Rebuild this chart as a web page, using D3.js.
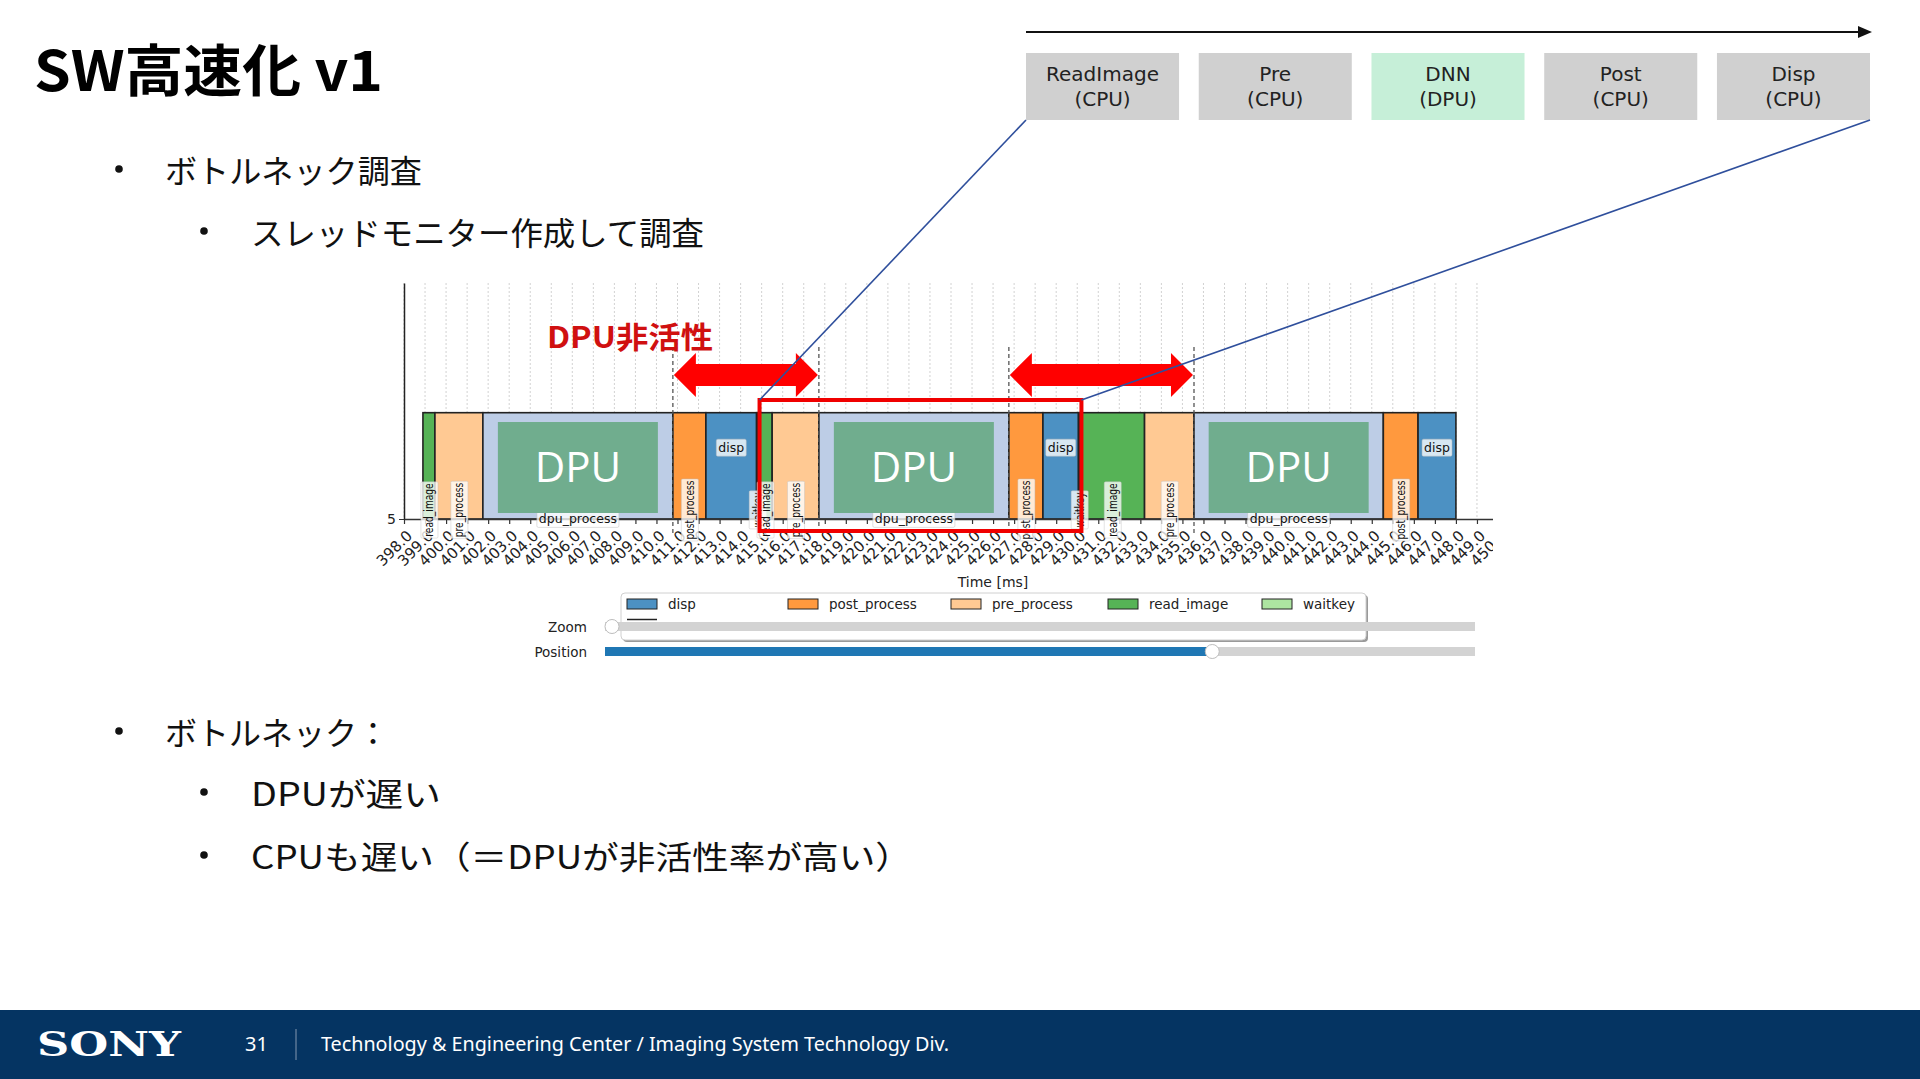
<!DOCTYPE html>
<html>
<head>
<meta charset="utf-8">
<title>SW高速化 v1</title>
<script src="https://cdn.jsdelivr.net/npm/d3@7"></script>
<style>
  html, body { margin: 0; padding: 0; background: #fff; overflow: hidden; }
  svg { display: block; }
</style>
</head>
<body>
<svg id="slide" width="1920" height="1079"></svg>
<script>
// ---------- values ----------
const titleText = 'SW高速化 v1';
const bulletText  = ['ボトルネック調査', 'スレッドモニター作成して調査', 'ボトルネック：', 'DPUが遅い', 'CPUも遅い（＝DPUが非活性率が高い）'];
const bulletLevel = [1, 2, 1, 2, 2];

const stageNames = ['ReadImage', 'Pre', 'DNN', 'Post', 'Disp'];
const stageUnits = ['(CPU)', '(CPU)', '(DPU)', '(CPU)', '(CPU)'];

// thread monitor timeline (ms)
const segTask  = ['read_image', 'pre_process', 'dpu_process', 'post_process', 'disp', 'waitkey',
                  'read_image', 'pre_process', 'dpu_process', 'post_process', 'disp', 'waitkey',
                  'read_image', 'pre_process', 'dpu_process', 'post_process', 'disp'];
const segStart = [398.90, 399.47, 401.75, 410.78, 412.35, 414.76,
                  414.82, 415.50, 417.72, 426.75, 428.37, 430.06,
                  430.13, 433.20, 435.55, 444.55, 446.20];
const segEnd   = [399.47, 401.75, 410.78, 412.35, 414.76, 414.82,
                  415.50, 417.72, 426.75, 428.37, 430.06, 430.13,
                  433.20, 435.55, 444.55, 446.20, 448.00];

const legendTasks = ['disp', 'post_process', 'pre_process', 'read_image', 'waitkey'];
const timeDomain = [398, 450];
const xTicks = d3.range(398, 451);   // one tick per ms
const yTicks = [5];
const highlightSpan = [414.9, 430.2]; // the frame boxed in red
const zoomValue = 0;                  // slider values, fraction of the track
const positionValue = 0.698;
const footerPage = '31';
const footerText = 'Technology & Engineering Center / Imaging System Technology Div.';

const taskColor = {
  disp: '#4c91c3', post_process: '#ff993e', pre_process: '#ffc993',
  read_image: '#56b356', waitkey: '#ade5a1', dpu_process: '#bdcde6'
};

const jp = '"Noto Sans CJK JP", "Noto Sans", sans-serif';
const mpl = '"DejaVu Sans", sans-serif';
const svg = d3.select('#slide');

const segs = segTask.map((t, i) => ({ task: t, start: segStart[i], end: segEnd[i] }));
const dpuSegs = segs.filter(d => d.task === 'dpu_process');
// DPU idle = gap between two dpu_process runs
const idleSpans = dpuSegs.slice(1).map((d, i) => [dpuSegs[i].end, d.start]);

// ---------- title and bullets ----------
svg.append('text').attr('x', 34).attr('y', 91)
  .attr('font-family', jp).attr('font-weight', 700).attr('font-size', 56)
  .attr('textLength', 349).attr('lengthAdjust', 'spacingAndGlyphs')
  .text(titleText);

const bulletY = [169, 231, 731, 792, 855];
const bulletLen = [257, 453, null, 190, 661];
bulletText.forEach((t, i) => {
  const lvl = bulletLevel[i];
  svg.append('circle').attr('cx', lvl === 1 ? 119 : 204).attr('cy', bulletY[i]).attr('r', 3.8).attr('fill', '#111');
  const txt = svg.append('text').attr('x', lvl === 1 ? 165 : 251).attr('y', bulletY[i])
    .attr('dominant-baseline', 'central')
    .attr('font-family', jp).attr('font-size', 32).attr('fill', '#111').text(t);
  if (bulletLen[i]) txt.attr('textLength', bulletLen[i]).attr('lengthAdjust', 'spacingAndGlyphs');
});

// ---------- pipeline boxes (top right) ----------
const sx = d3.scaleBand().domain(stageNames).range([1026, 1870]).paddingInner(0.114);
svg.append('line').attr('x1', 1026).attr('x2', 1860).attr('y1', 32).attr('y2', 32)
  .attr('stroke', '#111').attr('stroke-width', 2);
svg.append('path').attr('d', 'M1858,26 L1872,32 L1858,38 Z').attr('fill', '#111');

const stage = svg.append('g').selectAll('g').data(stageNames).join('g')
  .attr('transform', d => `translate(${sx(d)},53)`);
stage.append('rect').attr('width', sx.bandwidth()).attr('height', 67)
  .attr('fill', d => d === 'DNN' ? '#c6efd8' : '#d0d0d0');
stage.append('text').attr('x', sx.bandwidth() / 2).attr('y', 21)
  .attr('text-anchor', 'middle').attr('dominant-baseline', 'central')
  .attr('font-family', mpl).attr('font-size', 20).attr('fill', '#222').text(d => d);
stage.append('text').attr('x', sx.bandwidth() / 2).attr('y', 46)
  .attr('text-anchor', 'middle').attr('dominant-baseline', 'central')
  .attr('font-family', mpl).attr('font-size', 20).attr('fill', '#222')
  .text((d, i) => stageUnits[i]);

// ---------- thread monitor chart ----------
const x = d3.scaleLinear().domain(timeDomain).range([404, 1498]);
const y = d3.scaleLinear().domain([5, 7.22]).range([519, 283]);
const barTop = 6;

svg.append('defs').append('clipPath').attr('id', 'chartClip').append('rect')
  .attr('x', 360).attr('y', 270).attr('width', 1493 - 360).attr('height', 320);
const chart = svg.append('g').attr('clip-path', 'url(#chartClip)');

// grid
chart.append('g').selectAll('line').data(xTicks).join('line')
  .attr('x1', d => x(d)).attr('x2', d => x(d))
  .attr('y1', y(7.22)).attr('y2', y(5))
  .attr('stroke', '#d2d2d2').attr('stroke-width', 1).attr('stroke-dasharray', '2,2');

// bars
chart.append('g').selectAll('rect').data(segs).join('rect')
  .attr('x', d => x(d.start)).attr('y', y(barTop))
  .attr('width', d => x(d.end) - x(d.start)).attr('height', y(5) - y(barTop))
  .attr('fill', d => taskColor[d.task])
  .attr('stroke', '#222').attr('stroke-width', 1.6);

// axes
const gx = chart.append('g').attr('transform', `translate(0,${y(5)})`)
  .call(d3.axisBottom(x).tickValues(xTicks).tickFormat(d3.format('.1f')).tickSize(5).tickSizeOuter(0));
gx.select('.domain').attr('stroke', '#333').attr('stroke-width', 1.3);
gx.selectAll('.tick line').attr('stroke', '#333').attr('stroke-width', 1.2);
gx.selectAll('.tick text')
  .attr('y', null).attr('dy', '0.35em').attr('text-anchor', 'end')
  .attr('transform', 'translate(5,14) rotate(-45)')
  .attr('font-family', mpl).attr('font-size', 15).attr('fill', '#222');

const gy = chart.append('g').attr('transform', `translate(${x(timeDomain[0])},0)`)
  .call(d3.axisLeft(y).tickValues(yTicks).tickFormat(d3.format('d')).tickSize(5).tickSizeOuter(0));
gy.select('.domain').attr('stroke', '#222').attr('stroke-width', 1.5);
gy.selectAll('.tick line').attr('stroke', '#333');
gy.selectAll('.tick text').attr('font-family', mpl).attr('font-size', 14).attr('fill', '#222');

chart.append('text').attr('x', 993).attr('y', 582)
  .attr('text-anchor', 'middle').attr('dominant-baseline', 'central')
  .attr('font-family', mpl).attr('font-size', 14).attr('fill', '#222').text('Time [ms]');

// task labels with a translucent white box
function boxLabels(sel) {
  sel.each(function () {
    const b = d3.select(this).select('text').node().getBBox();
    d3.select(this).insert('rect', 'text')
      .attr('x', b.x - 2).attr('y', b.y - 1).attr('width', b.width + 4).attr('height', b.height + 2)
      .attr('fill', '#fff').attr('fill-opacity', 0.78)
      .attr('stroke', '#bbb').attr('stroke-opacity', 0.6).attr('stroke-width', 0.8).attr('rx', 1.5);
  });
}

const vLab = chart.append('g').selectAll('g')
  .data(segs.filter(d => d.task !== 'dpu_process' && d.task !== 'disp')).join('g')
  .attr('transform', d => `translate(${x((d.start + d.end) / 2)},510) scale(1,0.7) rotate(-90)`);
vLab.append('text').attr('text-anchor', 'middle').attr('dy', '0.35em')
  .attr('font-family', mpl).attr('font-size', 13).attr('fill', '#111').text(d => d.task);
boxLabels(vLab);

const hLab = chart.append('g').selectAll('g')
  .data(segs.filter(d => d.task === 'dpu_process' || d.task === 'disp')).join('g')
  .attr('transform', d => `translate(${x((d.start + d.end) / 2)},${d.task === 'disp' ? y(5.67) : y(5)})`);
hLab.append('text').attr('text-anchor', 'middle').attr('dy', '0.35em')
  .attr('font-family', mpl).attr('font-size', 12.5).attr('fill', '#111').text(d => d.task);
boxLabels(hLab);

// ---------- slide annotations over the chart ----------
const over = svg.append('g');
over.selectAll('rect.dpu').data(dpuSegs).join('rect').attr('class', 'dpu')
  .attr('x', d => x((d.start + d.end) / 2) - 80).attr('y', 422)
  .attr('width', 160).attr('height', 91).attr('fill', '#70ad8e');
over.selectAll('text.dpu').data(dpuSegs).join('text').attr('class', 'dpu')
  .attr('x', d => x((d.start + d.end) / 2)).attr('y', 482)
  .attr('text-anchor', 'middle')
  .attr('font-family', '"Open Sans", "Noto Sans", sans-serif').attr('font-size', 42)
  .attr('fill', '#fff').text('DPU');

over.selectAll('line.idle').data(idleSpans.flat()).join('line').attr('class', 'idle')
  .attr('x1', d => x(d)).attr('x2', d => x(d)).attr('y1', 347).attr('y2', 535)
  .attr('stroke', '#555').attr('stroke-width', 1.3).attr('stroke-dasharray', '4,3');

function doubleArrow(x0, x1, cy) {
  const h = 22, H = 22, s = 11;
  return `M${x0},${cy} L${x0 + h},${cy - H} L${x0 + h},${cy - s} L${x1 - h},${cy - s} L${x1 - h},${cy - H} ` +
         `L${x1},${cy} L${x1 - h},${cy + H} L${x1 - h},${cy + s} L${x0 + h},${cy + s} L${x0 + h},${cy + H} Z`;
}
over.selectAll('path.idle').data(idleSpans).join('path').attr('class', 'idle')
  .attr('d', d => doubleArrow(x(d[0]) + 1, x(d[1]) - 1, 375))
  .attr('fill', '#ff0000');

over.append('text').attr('x', 547).attr('y', 335).attr('dominant-baseline', 'central')
  .attr('font-family', jp).attr('font-weight', 700).attr('font-size', 30)
  .attr('textLength', 166).attr('lengthAdjust', 'spacingAndGlyphs')
  .attr('fill', '#d01010').text('DPU非活性');

const hx0 = x(highlightSpan[0]), hx1 = x(highlightSpan[1]);
over.append('rect').attr('x', hx0).attr('y', 400).attr('width', hx1 - hx0).attr('height', 131)
  .attr('fill', 'none').attr('stroke', '#f00000').attr('stroke-width', 4);

over.append('line').attr('x1', hx0).attr('y1', 400).attr('x2', sx(stageNames[0])).attr('y2', 120)
  .attr('stroke', '#2f4f9c').attr('stroke-width', 1.6);
over.append('line').attr('x1', hx1).attr('y1', 400)
  .attr('x2', sx(stageNames[stageNames.length - 1]) + sx.bandwidth()).attr('y2', 120)
  .attr('stroke', '#2f4f9c').attr('stroke-width', 1.6);

// ---------- legend ----------
const legX = [627, 788, 951, 1108, 1262];
const leg = svg.append('g');
leg.append('rect').attr('x', 623).attr('y', 595).attr('width', 745).attr('height', 47)
  .attr('rx', 4).attr('fill', '#9a9a9a');
leg.append('rect').attr('x', 621).attr('y', 593).attr('width', 745).attr('height', 47)
  .attr('rx', 4).attr('fill', '#fff').attr('stroke', '#d0d0d0');
const legItem = leg.selectAll('g').data(legendTasks).join('g')
  .attr('transform', (d, i) => `translate(${legX[i]},604)`);
legItem.append('rect').attr('x', 0).attr('y', -5).attr('width', 30).attr('height', 10)
  .attr('fill', d => taskColor[d]).attr('stroke', '#222').attr('stroke-width', 1);
legItem.append('text').attr('x', 41).attr('dy', '0.35em')
  .attr('font-family', mpl).attr('font-size', 13.5).attr('fill', '#222').text(d => d);
leg.append('line').attr('x1', legX[0]).attr('x2', legX[0] + 30).attr('y1', 619.5).attr('y2', 619.5)
  .attr('stroke', '#222').attr('stroke-width', 1.5);

// ---------- sliders ----------
const track = d3.scaleLinear().domain([0, 1]).range([605, 1475]);
const sliders = [
  { label: 'Zoom', value: zoomValue, cy: 626.5 },
  { label: 'Position', value: positionValue, cy: 651.5 }
];
const sg = svg.append('g').selectAll('g').data(sliders).join('g');
sg.append('rect').attr('x', track(0)).attr('y', d => d.cy - 4.5)
  .attr('width', track(1) - track(0)).attr('height', 9).attr('fill', '#d3d3d3');
sg.append('rect').attr('x', track(0)).attr('y', d => d.cy - 4.5)
  .attr('width', d => track(d.value) - track(0)).attr('height', 9).attr('fill', '#1f77b4');
sg.append('circle').attr('cx', d => track(d.value) + (d.value === 0 ? 7 : 0)).attr('cy', d => d.cy)
  .attr('r', 7).attr('fill', '#fff').attr('stroke', '#bdbdbd').attr('stroke-width', 1);
sg.append('text').attr('x', 587).attr('y', d => d.cy).attr('text-anchor', 'end')
  .attr('dominant-baseline', 'central')
  .attr('font-family', mpl).attr('font-size', 13.5).attr('fill', '#222').text(d => d.label);

// ---------- footer ----------
svg.append('rect').attr('x', 0).attr('y', 1010).attr('width', 1920).attr('height', 69).attr('fill', '#053462');
svg.append('text').attr('x', 37).attr('y', 1056)
  .attr('font-family', '"DejaVu Serif", "Liberation Serif", serif').attr('font-weight', 700).attr('font-size', 33)
  .attr('textLength', 144).attr('lengthAdjust', 'spacingAndGlyphs').attr('fill', '#fff').text('SONY');
svg.append('text').attr('x', 245).attr('y', 1051)
  .attr('font-family', '"Noto Sans", sans-serif').attr('font-size', 20).attr('fill', '#fff').text(footerPage);
svg.append('line').attr('x1', 296).attr('x2', 296).attr('y1', 1029).attr('y2', 1060)
  .attr('stroke', '#8497b0').attr('stroke-width', 1);
svg.append('text').attr('x', 321).attr('y', 1051)
  .attr('font-family', '"Noto Sans", sans-serif').attr('font-size', 19)
  .attr('textLength', 628).attr('lengthAdjust', 'spacingAndGlyphs').attr('fill', '#fff').text(footerText);
</script>
</body>
</html>
